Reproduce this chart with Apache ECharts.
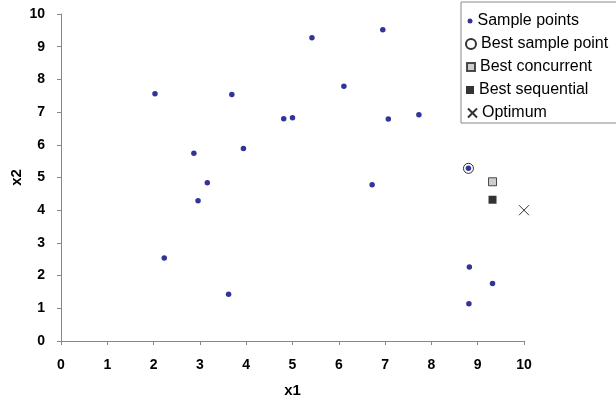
<!DOCTYPE html>
<html>
<head>
<meta charset="utf-8">
<script src="https://cdn.jsdelivr.net/npm/echarts@6/dist/echarts.min.js"></script>
<style>
  html, body { margin: 0; padding: 0; background: #fff; }
  #chart { width: 616px; height: 404px; }
</style>
</head>
<body>
<div id="chart"></div>
<script>
// 样本点 (x1, x2)
const samplePoints = [
    [2.03, 7.56], [3.69, 7.54], [2.87, 5.74], [3.94, 5.89],
    [3.16, 4.84], [2.96, 4.29], [2.23, 2.54], [3.62, 1.43],
    [5.42, 9.27], [6.95, 9.52], [6.11, 7.79], [4.81, 6.80],
    [5.00, 6.83], [7.07, 6.79], [7.73, 6.92], [6.72, 4.78],
    [8.80, 5.28], [8.82, 2.26], [9.32, 1.76], [8.81, 1.14]
];
const bestSample = [[8.80, 5.28]];
const bestConcurrent = [[9.32, 4.87]];
const bestSequential = [[9.32, 4.32]];
const optimum = [[10, 4]];
const axisTicks = [0, 1, 2, 3, 4, 5, 6, 7, 8, 9, 10];

const legendNames = ['Sample points', 'Best sample point', 'Best concurrent', 'Best sequential', 'Optimum'];
const crossPath = 'path://M0,0L10,10M10,0L0,10';

const chart = echarts.init(document.getElementById('chart'));

const axisCommon = {
    type: 'value',
    min: axisTicks[0],
    max: axisTicks[axisTicks.length - 1],
    interval: 1,
    splitLine: { show: false },
    axisLine: { lineStyle: { color: '#878787', width: 1 } },
    axisTick: { length: 4, lineStyle: { color: '#878787' } },
    axisLabel: {
        color: '#000',
        fontFamily: 'Liberation Sans, Arial, sans-serif',
        fontSize: 14,
        fontWeight: 'bold'
    },
    nameLocation: 'middle',
    nameMoveOverlap: false,
    nameTextStyle: {
        color: '#000',
        fontFamily: 'Liberation Sans, Arial, sans-serif',
        fontSize: 15,
        fontWeight: 'bold'
    }
};

// 每一行图例单独放一个 legend, 方便控制图标大小
const legendSizes = [5, 10, 8, 8, 9];
const legends = legendNames.map((name, i) => ({
    orient: 'vertical',
    left: 470 - legendSizes[i] / 2,
    top: 21 + 23 * i - 8,
    padding: 0,
    itemWidth: legendSizes[i],
    itemHeight: legendSizes[i],
    selectedMode: false,
    data: [name],
    textStyle: {
        color: '#000',
        fontFamily: 'Liberation Sans, Arial, sans-serif',
        fontSize: 16,
        lineHeight: 16
    }
}));

const option = {
    animation: false,
    backgroundColor: '#fff',
    grid: {
        left: 61, right: 92, top: 14, bottom: 63,
        containLabel: false,
        outerBoundsMode: 'none'
    },
    xAxis: Object.assign({}, axisCommon, {
        name: 'x1',
        nameGap: 42,
        axisLabel: Object.assign({}, axisCommon.axisLabel, { margin: 17 })
    }),
    yAxis: Object.assign({}, axisCommon, {
        name: 'x2',
        nameGap: 37,
        axisLabel: Object.assign({}, axisCommon.axisLabel, { margin: 16 })
    }),
    graphic: [{
        type: 'rect',
        z: 3,
        shape: { x: 461, y: 2, width: 170, height: 121 },
        style: { fill: '#fff', stroke: '#8a8a8a', lineWidth: 1 }
    }],
    legend: legends,
    series: [
        {
            name: 'Best sample point',
            type: 'scatter',
            symbol: 'circle',
            symbolSize: 10,
            itemStyle: { color: '#fff', borderColor: '#000', borderWidth: 1 },
            data: bestSample,
            z: 2
        },
        {
            name: 'Sample points',
            type: 'scatter',
            symbol: 'circle',
            symbolSize: 5.5,
            itemStyle: { color: '#000080' },
            data: samplePoints,
            z: 3
        },
        {
            name: 'Best concurrent',
            type: 'scatter',
            symbol: 'rect',
            symbolSize: 8,
            itemStyle: { color: '#c0c0c0', borderColor: '#222', borderWidth: 1 },
            data: bestConcurrent
        },
        {
            name: 'Best sequential',
            type: 'scatter',
            symbol: 'rect',
            symbolSize: 8,
            itemStyle: { color: '#000' },
            data: bestSequential
        },
        {
            name: 'Optimum',
            type: 'scatter',
            symbol: crossPath,
            symbolSize: 10,
            itemStyle: { color: 'none', borderColor: '#000', borderWidth: 1 },
            data: optimum
        }
    ]
};

chart.setOption(option);

window.addEventListener('resize', function() {
    chart.resize();
});
</script>
</body>
</html>
